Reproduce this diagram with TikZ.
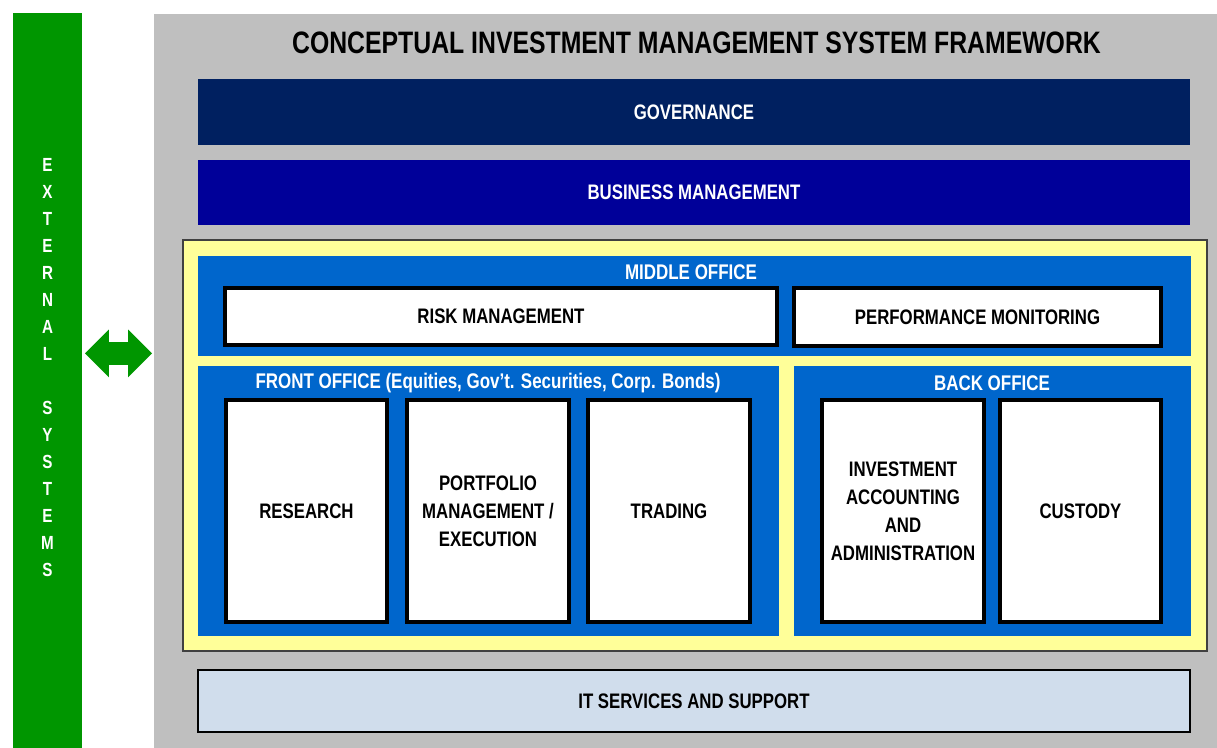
\documentclass[tikz,border=0pt]{standalone}
\usepackage{fontspec}
\setmainfont{Liberation Sans}[FakeStretch=0.8]
\usepackage{tikz}
\usetikzlibrary{positioning,shapes.arrows}
\definecolor{extgreen}{RGB}{0,150,0}
\definecolor{panelgray}{RGB}{191,191,191}
\definecolor{govblue}{RGB}{0,32,96}
\definecolor{busblue}{RGB}{0,0,153}
\definecolor{officeblue}{RGB}{0,102,204}
\definecolor{frameyellow}{RGB}{255,255,153}
\definecolor{itblue}{RGB}{208,221,236}
\definecolor{framegray}{RGB}{64,64,64}

\begin{document}
\begin{tikzpicture}[x=0.5pt,y=-0.5pt,
  band/.style={rectangle,inner sep=0pt,minimum width=496pt,font=\fontsize{10.5}{14}\selectfont\bfseries},
  office/.style={rectangle,fill=officeblue,inner sep=0pt},
  officelabel/.style={text=white,inner sep=0pt,font=\fontsize{10.6}{12}\selectfont\bfseries},
  item/.style={rectangle,draw=black,line width=1.6pt,fill=white,inner sep=0pt,align=center,
    font=\fontsize{10.5}{14}\selectfont\bfseries}]
\useasboundingbox (0,0) rectangle (1217,748);
\node[fill=extgreen,inner sep=0pt,minimum width=34.5pt,minimum height=367.5pt] (ext) at (47.5,380.5) {};
\node[text=white,align=center,font=\fontsize{9.5}{13.5}\selectfont\bfseries] (extlabel) at (47.5,368)
  {E\\X\\T\\E\\R\\N\\A\\L\\[13.5pt]S\\Y\\S\\T\\E\\M\\S};
\node[fill=panelgray,inner sep=0pt,minimum width=531.5pt,minimum height=367pt] (panel) at (685.5,381) {};
\node[double arrow,fill=extgreen,inner xsep=0pt,inner ysep=5.5pt,minimum height=33.5pt,
  double arrow head extend=6.25pt] (link) at (118.5,353.5) {};
\node[font=\fontsize{15.5}{18}\selectfont\bfseries] (title) at (696.5,43)
  {CONCEPTUAL INVESTMENT MANAGEMENT SYSTEM FRAMEWORK};
\node[band,fill=govblue,text=white,minimum height=33pt] (gov) at (694,112) {GOVERNANCE};
\node[band,fill=busblue,text=white,minimum height=32.5pt] (bus) at (694,192.5) {BUSINESS MANAGEMENT};
\node[rectangle,fill=frameyellow,draw=framegray,line width=0.9pt,inner sep=0pt,
  minimum width=512pt,minimum height=205.5pt] (frame) at (695,445.5) {};
\node[office,minimum width=496.5pt,minimum height=50pt] (mid) at (694.5,306) {};
\node[officelabel] (midlabel) at (691,272) {MIDDLE OFFICE};
\node[item,minimum width=276pt,minimum height=28.5pt] (risk) at (501,316.5) {RISK MANAGEMENT};
\node[item,minimum width=183.5pt,minimum height=29pt] (perf) at (977.5,317) {PERFORMANCE MONITORING};
\node[office,minimum width=290.5pt,minimum height=135pt] (front) at (488.5,501) {};
\node[officelabel] (frontlabel) at (488,383) {FRONT OFFICE (Equities, Gov't. Securities, Corp. Bonds)};
\node[office,minimum width=198.5pt,minimum height=135pt] (back) at (992.5,501) {};
\node[officelabel] (backlabel) at (992,383) {BACK OFFICE};
\node[item,minimum width=80.5pt,minimum height=111pt] (research) at (306.5,511) {RESEARCH};
\node[item,minimum width=81pt,minimum height=111pt] (portfolio) at (488,511)
  {PORTFOLIO\\MANAGEMENT /\\EXECUTION};
\node[item,minimum width=81pt,minimum height=111pt] (trading) at (669,511) {TRADING};
\node[item,minimum width=81pt,minimum height=111pt] (accounting) at (903,511)
  {INVESTMENT\\ACCOUNTING\\AND\\ADMINISTRATION};
\node[item,minimum width=80.5pt,minimum height=111pt] (custody) at (1080.5,511) {CUSTODY};
\node[band,fill=itblue,draw=black,line width=1pt,minimum height=31pt] (it) at (694,701)
  {IT SERVICES AND SUPPORT};
\end{tikzpicture}
\end{document}
